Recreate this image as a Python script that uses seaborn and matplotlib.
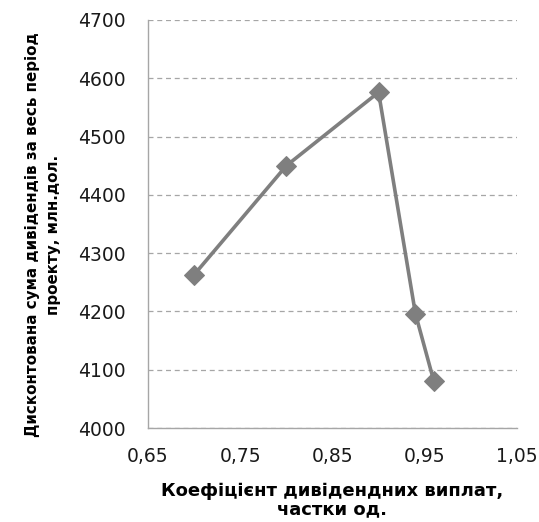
import matplotlib
matplotlib.use("Agg")
import matplotlib.pyplot as plt
import seaborn as sns
import pandas as pd

# data
payout_ratio = [0.70, 0.80, 0.90, 0.94, 0.96]
dividends = [4263, 4450, 4576, 4196, 4080]

x_ticks = [0.65, 0.75, 0.85, 0.95, 1.05]
x_tick_labels = ["0,65", "0,75", "0,85", "0,95", "1,05"]
y_ticks = [4000, 4100, 4200, 4300, 4400, 4500, 4600, 4700]

x_label = "Коефіцієнт дивідендних виплат,\nчастки од."
y_label = "Дисконтована сума дивідендів за весь період\nпроекту, млн.дол."

sns.set_style("white")
plt.rcParams["font.family"] = ["DejaVu Sans"]

df = pd.DataFrame({"k": payout_ratio, "d": dividends})

fig = plt.figure(figsize=(5.39, 5.22), dpi=100)
ax = fig.add_axes([0.2746, 0.180, 0.959 - 0.2746, 0.9617 - 0.180])

sns.lineplot(data=df, x="k", y="d", ax=ax, color="#7f7f7f",
             linewidth=2.6, marker="D", markersize=10,
             markeredgecolor="#7f7f7f", sort=False, zorder=3)

ax.set_xlim(0.65, 1.05)
ax.set_ylim(4000, 4700)
ax.set_xticks(x_ticks)
ax.set_xticklabels(x_tick_labels)
ax.set_yticks(y_ticks)

ax.yaxis.grid(True, linestyle=(0, (4, 3)), color="#a6a6a6", linewidth=0.9)
ax.xaxis.grid(False)

for side in ["top", "right"]:
    ax.spines[side].set_visible(False)
for side in ["left", "bottom"]:
    ax.spines[side].set_color("#a6a6a6")
    ax.spines[side].set_linewidth(1.0)

ax.tick_params(axis="both", which="major", direction="out", length=6,
               width=1.0, color="#a6a6a6", labelsize=13.5,
               labelcolor="#1a1a1a")
ax.tick_params(axis="x", pad=8)
ax.tick_params(axis="y", pad=10)

ax.set_xlabel(x_label, fontsize=13, fontweight="bold", labelpad=11,
              linespacing=1.05, color="black")
ax.set_ylabel(y_label, fontsize=10.9, fontweight="bold",
              linespacing=1.55, color="black")
ax.yaxis.set_label_coords(-0.235, 0.473)

fig.savefig("out.png", dpi=100)
